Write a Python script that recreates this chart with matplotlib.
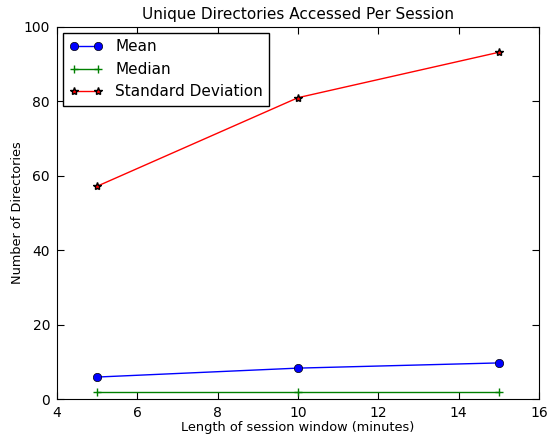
import matplotlib
matplotlib.use("Agg")
import matplotlib.pyplot as plt

windows = [5, 10, 15]
mean_vals = [5.9, 8.3, 9.7]
median_vals = [2, 2, 2]
std_vals = [57.2, 81.0, 93.2]

fig = plt.figure(figsize=(5.51, 4.36), dpi=100)
ax = fig.add_axes([57/551, 1-399/436, (539-57)/551, (399-27)/436])

ax.plot(windows, mean_vals, color='blue', marker='o', markersize=6, markeredgecolor='black', markeredgewidth=0.5, linewidth=1, label='Mean')
ax.plot(windows, median_vals, color='green', marker='+', markersize=6, linewidth=1, label='Median')
ax.plot(windows, std_vals, color='red', marker='*', markersize=6, markerfacecolor='red', markeredgecolor='black', markeredgewidth=1, linewidth=1, label='Standard Deviation')

ax.set_xlim(4, 16)
ax.set_ylim(0, 100)
ax.set_xticks([4, 6, 8, 10, 12, 14, 16])
ax.set_yticks([0, 20, 40, 60, 80, 100])
ax.tick_params(direction='in', top=True, right=True, labelsize=10, length=5, pad=5)
ax.set_title('Unique Directories Accessed Per Session', fontsize=11)
ax.set_xlabel('Length of session window (minutes)', fontsize=9.3, labelpad=1)
ax.set_ylabel('Number of Directories', fontsize=9.3)
ax.yaxis.set_label_coords(-0.068, 0.5)
leg = ax.legend(loc='upper left', fontsize=11, fancybox=False, framealpha=1, edgecolor='black',
                borderaxespad=0.4, handlelength=2.2, numpoints=2)
leg.get_frame().set_linewidth(1)

fig.savefig('out.png', dpi=100)
